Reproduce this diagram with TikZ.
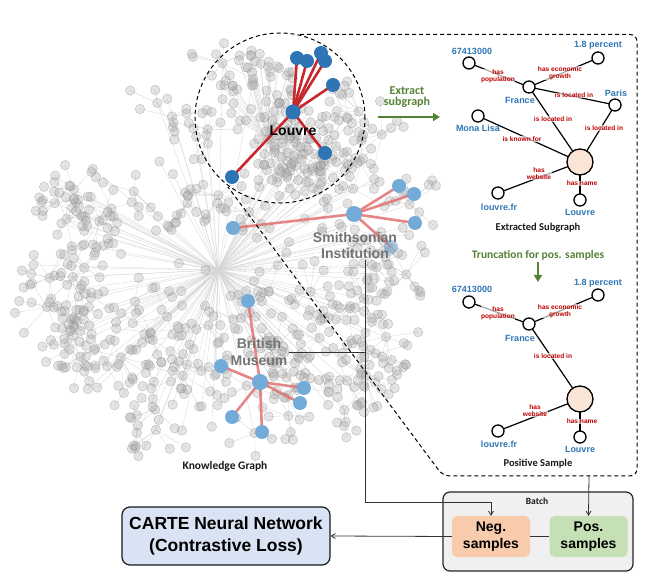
\documentclass[tikz,border=0pt]{standalone}
\usepackage{fontspec}
\setmainfont{Liberation Sans}
\newfontfamily\calfont{Carlito}
\usetikzlibrary{arrows.meta}

\definecolor{lvblue}{HTML}{2E75B6}
\definecolor{ltblue}{HTML}{72AAD8}
\definecolor{lbblue}{HTML}{2E75B6}
\definecolor{relred}{HTML}{C00000}
\definecolor{grn}{HTML}{548235}
\definecolor{negfill}{HTML}{F8CBAD}
\definecolor{posfill}{HTML}{C5E0B4}
\definecolor{cartefill}{HTML}{DAE3F3}
\definecolor{batchfill}{HTML}{F0F0F0}
\definecolor{peach}{HTML}{FBE5D6}
\definecolor{hlred}{HTML}{C8282D}
\definecolor{palered}{HTML}{E27272}

\newcommand\kgpass[2]{%
  \pgfmathsetseed{2024}%
  \foreach \k in {1,...,78}{%
    \pgfmathsetmacro\ang{rnd*360}%
    \pgfmathsetmacro\rad{28+172*(rnd)^0.45}%
    \pgfmathsetmacro\hx{222+\rad*cos(\ang)}%
    \pgfmathsetmacro\hy{252+\rad*sin(\ang)}%
    \path[#1] (218,270) -- (\hx,\hy);
    \pgfmathtruncatemacro\nl{3+int(rnd*10)}%
    \foreach \j in {1,...,\nl}{%
      \pgfmathsetmacro\la{rnd*360}%
      \pgfmathsetmacro\ld{10+26*rnd}%
      \pgfmathsetmacro\lx{\hx+\ld*cos(\la)}%
      \pgfmathsetmacro\ly{\hy+\ld*sin(\la)}%
      \path[#1] (\hx,\hy) -- (\lx,\ly);
      \node[#2] at (\lx,\ly) {};
    }
    \node[#2] at (\hx,\hy) {};
  }
  \foreach \k in {1,...,80}{%
    \pgfmathsetmacro\ang{rnd*360}%
    \pgfmathsetmacro\rad{12+175*sqrt(rnd)}%
    \pgfmathsetmacro\hx{220+\rad*cos(\ang)}%
    \pgfmathsetmacro\hy{262+\rad*sin(\ang)}%
    \path[#1] (218,270) -- (\hx,\hy);
    \node[#2] at (\hx,\hy) {};
  }
  \foreach \k in {1,...,42}{%
    \pgfmathsetmacro\ang{rnd*360}%
    \pgfmathsetmacro\rad{38*sqrt(rnd)}%
    \pgfmathsetmacro\hx{258+\rad*cos(\ang)}%
    \pgfmathsetmacro\hy{88+\rad*sin(\ang)}%
    \path[#1] (268,140) -- (\hx,\hy);
    \node[#2] at (\hx,\hy) {};
  }
  \foreach \k in {1,...,48}{%
    \pgfmathsetmacro\ang{rnd*360}%
    \pgfmathsetmacro\rad{38*sqrt(rnd)}%
    \pgfmathsetmacro\hx{285+\rad*cos(\ang)}%
    \pgfmathsetmacro\hy{160+\rad*sin(\ang)}%
    \path[#1] (268,140) -- (\hx,\hy);
    \node[#2] at (\hx,\hy) {};
  }
}

\tikzset{
  kgedge/.style={draw=black!17, line width=0.3pt},
  kgnoedge/.style={},
  kgnode/.style={circle, minimum size=9.5pt, inner sep=0pt, draw=black!45, line width=0.5pt,
    fill=black!35, fill opacity=0.3, draw opacity=0.45},
  kghide/.style={inner sep=0pt, minimum size=0pt},
  dashline/.style={draw=black, line width=1pt, dash pattern=on 4pt off 3pt},
  hlnode/.style={circle, minimum size=14pt, inner sep=0pt, fill=lvblue},
  hlnodelt/.style={circle, minimum size=14pt, inner sep=0pt, fill=ltblue},
  hledge/.style={draw=hlred, line width=2.6pt},
  paleedge/.style={draw=palered, line width=2.6pt, draw opacity=0.85},
  museum/.style={font=\bfseries\fontsize{14}{16.5}\selectfont, text=black!55, align=center, inner sep=1pt},
  ent/.style={circle, draw=black, line width=1.3pt, fill=white, minimum size=12pt, inner sep=0pt},
  bigent/.style={ent, minimum size=26pt, fill=peach},
  entlbl/.style={text=lbblue, font=\bfseries\fontsize{9}{10}\selectfont, inner sep=0.5pt},
  rel/.style={text=relred, font=\bfseries\fontsize{6.6}{6.8}\selectfont, align=center,
    fill=white, fill opacity=0.65, text opacity=1, inner sep=0.4pt},
  sgedge/.style={draw=black, line width=1.2pt},
  caption/.style={font=\calfont\bfseries\fontsize{10.5}{12}\selectfont, text=black!90},
  greentxt/.style={font=\calfont\bfseries\fontsize{12}{13}\selectfont, text=grn, align=center},
  greenarrow/.style={draw=grn, line width=1.6pt, -{Triangle[length=7pt,width=8pt]}},
  flow/.style={draw=black!80, line width=0.8pt},
  flowarrow/.style={flow, -{Straight Barb[length=4pt,width=5pt]}},
  samplebox/.style={rounded corners=5pt, minimum width=78pt, minimum height=41pt, align=center,
    font=\bfseries\fontsize{14}{17}\selectfont, inner sep=0pt},
}

\begin{document}
\begin{tikzpicture}[x=1pt,y=-1pt]
\useasboundingbox (0,0) rectangle (654,585);

% ---------------- knowledge graph cloud ----------------
\kgpass{kgedge}{kghide}
\kgpass{kgnoedge}{kgnode}

% ---------------- Louvre highlight ----------------
\coordinate (cLH) at (293,112);
\coordinate (cL1) at (297,58);
\coordinate (cL2) at (307,61);
\coordinate (cL3) at (321,53);
\coordinate (cL4) at (325,61);
\coordinate (cL5) at (333,85);
\coordinate (cL6) at (325,153);
\coordinate (cL7) at (232,177);
\foreach \t in {1,...,7}{\draw[hledge] (cLH) -- (cL\t);}
\node[hlnode, minimum size=15pt] (LH) at (cLH) {};
\foreach \t in {1,...,7}{\node[hlnode] (L\t) at (cL\t) {};}
\node[font=\bfseries\fontsize{14}{16}\selectfont, inner sep=0pt] (louvrelbl) at (293,131) {Louvre};

% ---------------- Smithsonian highlight ----------------
\coordinate (cSH) at (354,214);
\coordinate (cS1) at (399,186);
\coordinate (cS2) at (414,194);
\coordinate (cS3) at (415,223);
\coordinate (cS4) at (391,247);
\coordinate (cS5) at (233,228);
\foreach \t in {1,...,5}{\draw[paleedge] (cSH) -- (cS\t);}
\node[hlnodelt, minimum size=16pt] (SH) at (cSH) {};
\foreach \t in {1,2,3,5}{\node[hlnodelt] (S\t) at (cS\t) {};}
\node[hlnodelt, fill opacity=0.55] (S4) at (cS4) {};
\node[museum] (smithlbl) at (355,245.5) {Smithsonian\\Institution};

% ---------------- British Museum highlight ----------------
\coordinate (cBH) at (260,382);
\coordinate (cB1) at (248,301);
\coordinate (cB2) at (221,366);
\coordinate (cB3) at (304,388);
\coordinate (cB4) at (300,403);
\coordinate (cB5) at (232,417);
\coordinate (cB6) at (262,432);
\foreach \t in {1,...,6}{\draw[paleedge] (cBH) -- (cB\t);}
\node[hlnodelt, minimum size=16pt] (BH) at (cBH) {};
\foreach \t in {1,...,6}{\node[hlnodelt] (B\t) at (cB\t) {};}
\node[museum] (britlbl) at (259,352) {British\\Museum};

\node[caption, font=\calfont\bfseries\fontsize{11.5}{13}\selectfont] (kglbl) at (225,466) {Knowledge Graph};

% ---------------- dashed zoom region ----------------
\draw[dashline] (280,118) circle (85pt);
\draw[dashline, rounded corners=7pt] (300,34.5) -- (637,34.5) -- (637,476) -- (443,476) -- (228,187);

% ---------------- extract arrow ----------------
\node[greentxt] (extlbl) at (407,97) {Extract\\[-2pt]subgraph};
\coordinate (ex1) at (378,117);
\coordinate (ex2) at (440,117);
\draw[greenarrow] (ex1) -- (ex2);

% ---------------- extracted subgraph ----------------
\coordinate (cE1) at (469,63);
\coordinate (cE2) at (598,58);
\coordinate (cE3) at (529,87);
\coordinate (cE4) at (615,105);
\coordinate (cE5) at (478,116);
\coordinate (cE6) at (580,162);
\coordinate (cE7) at (498,193);
\coordinate (cE8) at (580,200);
\draw[sgedge] (cE1) -- (cE3);
\draw[sgedge] (cE2) -- (cE3);
\draw[sgedge] (cE3) -- (cE4);
\draw[sgedge] (cE3) -- (cE6);
\draw[sgedge] (cE4) -- (cE6);
\draw[sgedge] (cE5) -- (cE6);
\draw[sgedge] (cE7) -- (cE6);
\draw[sgedge] (cE6) -- (cE8);

\node[rel] (r1) at (498,76) {has\\population};
\node[rel] (r2) at (560,73) {has economic\\growth};
\node[rel] (r3) at (574,95.5) {is located in};
\node[rel] (r4) at (553,119) {is located in};
\node[rel] (r5) at (604,128) {is located in};
\node[rel] (r6) at (522,139) {is known for};
\node[rel] (r7) at (539,174) {has\\website};
\node[rel] (r8) at (582,183.5) {has name};

\foreach \t in {1,2,3,4,5,7,8}{\node[ent] (E\t) at (cE\t) {};}
\node[bigent] (E6) at (cE6) {};

\node[entlbl] (e1l) at (472,51.5) {67413000};
\node[entlbl] (e2l) at (598,45.5) {1.8 percent};
\node[entlbl] (e3l) at (520,100) {France};
\node[entlbl] (e4l) at (616,93) {Paris};
\node[entlbl] (e5l) at (478,128) {Mona Lisa};
\node[entlbl] (e7l) at (499,207) {louvre.fr};
\node[entlbl] (e8l) at (580,212) {Louvre};
\node[caption] (exlbl) at (538,228) {Extracted Subgraph};

% ---------------- truncation ----------------
\node[greentxt, font=\calfont\bfseries\fontsize{11.5}{13}\selectfont] (trlbl) at (538,255) {Truncation for pos. samples};
\coordinate (tr1) at (538,262);
\coordinate (tr2) at (538,282);
\draw[greenarrow] (tr1) -- (tr2);

% ---------------- positive sample ----------------
\coordinate (cP1) at (469,302);
\coordinate (cP2) at (598,295);
\coordinate (cP3) at (529,324);
\coordinate (cP6) at (580,399);
\coordinate (cP7) at (498,431);
\coordinate (cP8) at (580,437);
\draw[sgedge] (cP1) -- (cP3);
\draw[sgedge] (cP2) -- (cP3);
\draw[sgedge] (cP3) -- (cP6);
\draw[sgedge] (cP7) -- (cP6);
\draw[sgedge] (cP6) -- (cP8);

\node[rel] (p1) at (498,313) {has\\population};
\node[rel] (p2) at (560,311) {has economic\\growth};
\node[rel] (p3) at (553,356) {is located in};
\node[rel] (p4) at (535,411) {has\\website};
\node[rel] (p5) at (582,421.5) {has name};

\foreach \t in {1,2,3,7,8}{\node[ent] (P\t) at (cP\t) {};}
\node[bigent] (P6) at (cP6) {};

\node[entlbl] (p1l) at (472,289) {67413000};
\node[entlbl] (p2l) at (598,283) {1.8 percent};
\node[entlbl] (p3l) at (520,338) {France};
\node[entlbl] (p7l) at (499,444) {louvre.fr};
\node[entlbl] (p8l) at (580,449.5) {Louvre};
\node[caption] (pslbl) at (538,464) {Positive Sample};

% ---------------- batch & network ----------------
\node[draw=black!85, line width=1.2pt, fill=batchfill, rounded corners=7pt,
      minimum width=190pt, minimum height=79pt, inner sep=0pt] (batch) at (538,531.5) {};
\node[caption, font=\calfont\bfseries\fontsize{9.5}{11}\selectfont] (batchlbl) at (537,501) {Batch};
\node[samplebox, fill=negfill] (neg) at (491,536.5) {Neg.\\samples};
\node[samplebox, fill=posfill] (pos) at (588.5,536.5) {Pos.\\samples};

\node[draw=black!90, line width=1.2pt, fill=cartefill, rounded corners=8pt,
      minimum width=208pt, minimum height=58pt, align=center, inner sep=0pt,
      font=\bfseries\fontsize{17.5}{22}\selectfont] (carte) at (226,536) {CARTE Neural Network\\(Contrastive Loss)};

\draw[flow] (pos.west) -- (neg.east);
\draw[flowarrow] (neg.west) -- (carte.east);

\coordinate (bend) at (365,502);
\draw[flow] (britlbl.east) -- (britlbl.east -| bend);
\draw[flowarrow] (smithlbl.south -| bend) -- (bend) -| (neg.north);

\coordinate (dashbot) at (589,476);
\draw[flowarrow] (dashbot) -- (pos.north);
\end{tikzpicture}
\end{document}
